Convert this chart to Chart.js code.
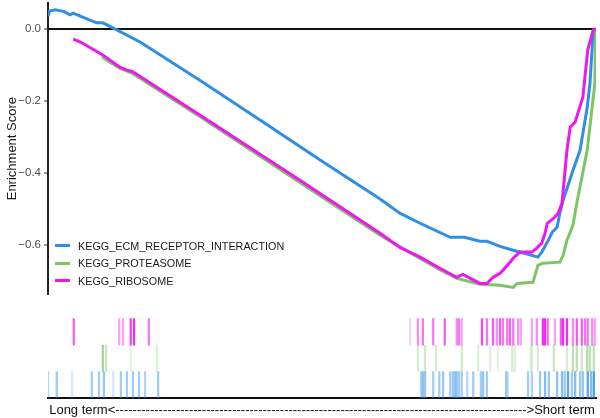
<!DOCTYPE html>
<html>
<head>
<meta charset="utf-8">
<script src="https://cdn.jsdelivr.net/npm/chart.js@4/dist/chart.umd.min.js"></script>
<style>
body { margin: 0; background: #fff; }
#wrap { position: relative; width: 600px; height: 418px; }
#legend { position: absolute; left: 55px; top: 237px; font: 10.8px "Liberation Sans", Arial, sans-serif; color: #1a1a1a; }
.item { display: flex; align-items: center; height: 17.5px; }
.sw { width: 15px; height: 3px; margin-right: 8px; }
</style>
</head>
<body>
<div id="wrap">
  <canvas id="c" width="600" height="418"></canvas>
  <div id="legend"></div>
</div>
<script>
// running enrichment score, x = gene rank (0..1000)
let ecmX = [0, 3, 13, 30, 40, 46, 60, 89, 100, 122, 168, 277, 400, 500, 606, 642, 679, 734, 760, 788, 801, 825, 849, 876, 894, 901, 911, 920, 929, 934, 940, 958, 971, 984, 989, 995, 1000];
let ecmY = [0.035, 0.05, 0.053, 0.048, 0.039, 0.044, 0.035, 0.017, 0.017, 0.0, -0.036, -0.142, -0.266, -0.367, -0.472, -0.511, -0.539, -0.578, -0.578, -0.589, -0.589, -0.603, -0.614, -0.625, -0.633, -0.619, -0.592, -0.564, -0.55, -0.511, -0.475, -0.392, -0.336, -0.217, -0.15, -0.003, 0];

let proX = [99, 103, 131, 155, 277, 450, 606, 679, 715, 746, 788, 825, 849, 856, 885, 894, 903, 934, 940, 947, 953, 958, 965, 984, 998, 999, 1000];
let proY = [-0.075, -0.083, -0.109, -0.124, -0.243, -0.416, -0.572, -0.637, -0.668, -0.692, -0.708, -0.711, -0.717, -0.706, -0.703, -0.656, -0.65, -0.647, -0.628, -0.586, -0.564, -0.544, -0.483, -0.336, -0.15, -0.003, 0];

let riboX = [46, 60, 100, 131, 144, 155, 277, 450, 606, 642, 679, 715, 746, 757, 788, 801, 812, 825, 838, 849, 861, 883, 892, 901, 907, 911, 923, 931, 938, 947, 953, 962, 976, 985, 995, 1000];
let riboY = [-0.028, -0.037, -0.072, -0.106, -0.114, -0.119, -0.239, -0.41, -0.567, -0.606, -0.633, -0.664, -0.689, -0.681, -0.706, -0.706, -0.689, -0.678, -0.656, -0.636, -0.619, -0.619, -0.608, -0.594, -0.567, -0.539, -0.525, -0.511, -0.483, -0.336, -0.272, -0.258, -0.189, -0.058, -0.003, 0];

// gene set hits along the ranked list, with hit weight
let ecmHits = [0, 16, 44, 80, 93, 102, 119, 133, 144, 155, 166, 177, 201, 681, 684, 688, 703, 714, 721, 734, 739, 743, 746, 750, 755, 765, 776, 790, 794, 801, 836, 839, 876, 883, 898, 907, 914, 929, 938, 943, 949, 956, 962, 971, 976, 985, 991, 996];
let ecmWeight = [0.4, 0.45, 0.2, 0.45, 0.45, 0.5, 0.2, 0.45, 0.45, 0.45, 0.45, 0.4, 0.45, 0.4, 0.5, 0.5, 0.45, 0.45, 0.5, 0.45, 0.5, 0.5, 0.45, 0.45, 0.45, 0.35, 0.45, 0.45, 0.5, 0.45, 0.45, 0.3, 0.45, 0.4, 0.5, 0.6, 0.5, 0.55, 0.6, 0.5, 0.8, 0.45, 0.6, 0.5, 0.5, 0.8, 0.6, 0.85];

let proHits = [100, 106, 151, 199, 675, 688, 708, 755, 785, 807, 821, 847, 852, 881, 883, 894, 923, 947, 958, 965, 974, 984, 989, 996];
let proWeight = [0.7, 0.4, 0.2, 0.25, 0.3, 0.35, 0.3, 0.35, 0.25, 0.25, 0.2, 0.3, 0.25, 0.2, 0.25, 0.3, 0.4, 0.3, 0.5, 0.5, 0.4, 0.6, 0.5, 0.5];

let riboHits = [47, 130, 137, 151, 157, 184, 661, 675, 684, 703, 724, 746, 750, 755, 792, 801, 812, 819, 825, 830, 838, 843, 849, 858, 863, 883, 892, 903, 907, 912, 925, 936, 940, 947, 958, 965, 974, 980, 985, 993, 998];
let riboWeight = [0.7, 0.4, 0.4, 0.8, 0.9, 0.6, 0.2, 0.5, 0.6, 0.6, 0.7, 0.5, 0.6, 0.4, 0.8, 0.6, 0.7, 0.5, 0.7, 0.6, 0.6, 0.7, 0.6, 0.5, 0.4, 0.4, 0.5, 0.9, 0.9, 0.6, 0.4, 0.7, 0.9, 0.9, 0.5, 0.7, 0.7, 0.6, 0.6, 0.5, 0.4];

let setNames = ["KEGG_ECM_RECEPTOR_INTERACTION", "KEGG_PROTEASOME", "KEGG_RIBOSOME"];
let yTicks = [0, -0.2, -0.4, -0.6];

let blue = [47, 143, 230];
let green = [124, 196, 102];
let magenta = [238, 23, 238];

function rgb(c, a) {
    return "rgba(" + c[0] + "," + c[1] + "," + c[2] + "," + a + ")";
}

function toPoints(xs, ys) {
    let pts = [];
    xs.forEach((x, i) => pts.push({x: x, y: ys[i]}));
    return pts;
}

function rugSet(hits, weights, row, col) {
    let pts = [];
    hits.forEach(h => pts.push({x: h, y: [row, row + 1]}));
    return {
        type: "bar",
        data: pts,
        yAxisID: "y2",
        barThickness: 1.6,
        grouped: false,
        backgroundColor: weights.map(w => rgb(col, w)),
        borderWidth: 0
    };
}

function lineSet(label, xs, ys, col) {
    return {
        type: "scatter",
        label: label,
        data: toPoints(xs, ys),
        yAxisID: "y",
        showLine: true,
        borderColor: rgb(col, 1),
        backgroundColor: rgb(col, 1),
        borderWidth: 3,
        pointRadius: 0,
        tension: 0
    };
}

// kill the label overflow padding chart.js adds around each scale
function noPad(s) {
    s.paddingTop = 0;
    s.paddingBottom = 0;
    s.paddingLeft = 0;
    s.paddingRight = 0;
}

const ctx = document.getElementById("c").getContext("2d");

new Chart(ctx, {
    type: "scatter",
    data: {
        datasets: [
            lineSet(setNames[2], riboX, riboY, magenta),
            lineSet(setNames[0], ecmX, ecmY, blue),
            lineSet(setNames[1], proX, proY, green),
            rugSet(riboHits, riboWeight, 2, magenta),
            rugSet(proHits, proWeight, 1, green),
            rugSet(ecmHits, ecmWeight, 0, blue)
        ]
    },
    options: {
        responsive: false,
        animation: false,
        layout: { padding: { top: 3, right: 4, left: 0, bottom: 0 } },
        plugins: { legend: { display: false }, tooltip: { enabled: false } },
        scales: {
            x: {
                type: "linear", min: 0, max: 1000, offset: false,
                ticks: { display: false },
                grid: { display: false, offset: false },
                border: { display: true, color: "#111", width: 2 },
                title: {
                    display: true,
                    text: "Long term<" + "-".repeat(95) + ">Short term",
                    color: "#111",
                    font: { family: "Liberation Sans", size: 13 },
                    padding: { top: 1, bottom: 0 }
                },
                afterFit: s => { s.height = 20; noPad(s); }
            },
            y: {
                type: "linear", min: -0.736, max: 0.072,
                position: "left", stack: "es", stackWeight: 292, weight: 2,
                afterBuildTicks: s => { s.ticks = yTicks.map(v => ({value: v})); },
                ticks: {
                    color: "#4d4d4d",
                    font: { family: "Liberation Sans", size: 11.5 },
                    padding: 3,
                    callback: v => v === 0 ? "0.0" : "\u2212" + Math.abs(v).toFixed(1)
                },
                grid: {
                    color: c => (c.tick && c.tick.value === 0) ? "#111" : "rgba(0,0,0,0)",
                    lineWidth: 2,
                    tickColor: "#333",
                    tickLength: 4,
                    tickWidth: 1
                },
                border: { display: true, color: "#222", width: 2 },
                title: {
                    display: true, text: "Enrichment Score", color: "#1a1a1a",
                    font: { family: "Liberation Sans", size: 13 }, padding: { top: 5, bottom: 0 }
                },
                afterFit: s => { s.width = 48; noPad(s); }
            },
            y2: {
                type: "linear", min: 0, max: 3.92,
                position: "left", stack: "es", stackWeight: 104, weight: 1,
                ticks: { display: false },
                grid: { display: false },
                border: { display: false },
                afterFit: s => { s.width = 48; noPad(s); }
            }
        }
    }
});

// legend
let legend = document.getElementById("legend");
[[setNames[0], blue], [setNames[1], green], [setNames[2], magenta]].forEach(e => {
    let item = document.createElement("div");
    item.className = "item";
    item.innerHTML = '<span class="sw" style="background:' + rgb(e[1], 1) + '"></span>' + e[0];
    legend.appendChild(item);
});
</script>
</body>
</html>
